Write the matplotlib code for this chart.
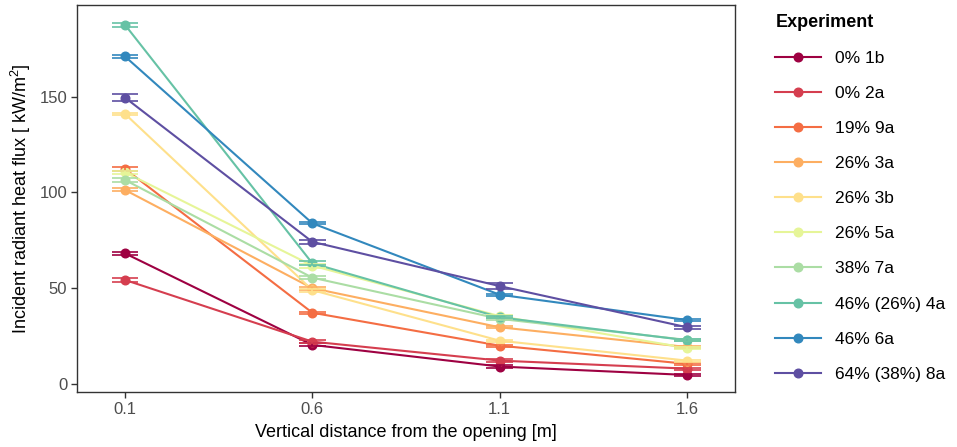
import matplotlib
matplotlib.use("Agg")
import matplotlib.pyplot as plt
from matplotlib.lines import Line2D

plt.rcParams['font.family'] = ['Liberation Sans', 'DejaVu Sans']
plt.rcParams['mathtext.fontset'] = 'custom'
plt.rcParams['mathtext.rm'] = 'Liberation Sans'
plt.rcParams['mathtext.it'] = 'Liberation Sans:italic'

distances = [0.1, 0.6, 1.1, 1.6]
experiments = ["0% 1b", "0% 2a", "19% 9a", "26% 3a", "26% 3b",
               "26% 5a", "38% 7a", "46% (26%) 4a", "46% 6a", "64% (38%) 8a"]
colors = ["#9E0142", "#D53E4F", "#F46D43", "#FDAE61", "#FEE08B",
          "#E6F598", "#ABDDA4", "#66C2A5", "#3288BD", "#5E4FA2"]

flux_1b = [68.2, 20.4, 9.1, 4.7]
flux_2a = [54.3, 22.1, 12.2, 8.0]
flux_9a = [112.3, 37.2, 20.0, 10.5]
flux_3a = [101.3, 50.0, 29.6, 19.3]
flux_3b = [141.0, 49.0, 22.6, 12.2]
flux_5a = [110.5, 61.8, 35.4, 18.8]
flux_7a = [106.5, 55.5, 34.0, 23.0]
flux_4a = [187.5, 63.0, 34.8, 22.8]
flux_6a = [171.0, 83.9, 46.6, 33.4]
flux_8a = [149.5, 74.2, 51.1, 29.6]

err_1b = [0.8, 0.8, 0.6, 0.5]
err_2a = [0.8, 0.8, 0.6, 0.5]
err_9a = [1.0, 0.6, 0.6, 0.5]
err_3a = [0.8, 0.8, 0.6, 0.5]
err_3b = [0.6, 0.8, 0.6, 0.5]
err_5a = [0.8, 1.0, 0.8, 0.6]
err_7a = [0.8, 0.8, 0.6, 0.5]
err_4a = [1.1, 1.0, 0.6, 0.5]
err_6a = [1.0, 0.6, 0.6, 0.5]
err_8a = [1.9, 1.2, 1.5, 0.8]

fluxes = [flux_1b, flux_2a, flux_9a, flux_3a, flux_3b,
          flux_5a, flux_7a, flux_4a, flux_6a, flux_8a]
errors = [err_1b, err_2a, err_9a, err_3a, err_3b,
          err_5a, err_7a, err_4a, err_6a, err_8a]

fig = plt.figure(figsize=(9.57, 4.47), dpi=100)
ax = fig.add_axes([0.0805, 0.123, 0.6875, 0.866])

half_w = 0.036
for name, col, ys, es in zip(experiments, colors, fluxes, errors):
    ax.plot(distances, ys, color=col, lw=1.5, zorder=2)
    ax.plot(distances, ys, 'o', color=col, ms=6.2, zorder=3)
    lo = [y - e for y, e in zip(ys, es)]
    hi = [y + e for y, e in zip(ys, es)]
    xl = [x - half_w for x in distances]
    xr = [x + half_w for x in distances]
    ax.hlines(lo, xl, xr, color=col, lw=1.2, zorder=4)
    ax.hlines(hi, xl, xr, color=col, lw=1.2, zorder=4)
    ax.vlines(distances, lo, hi, color=col, lw=1.2, zorder=4)

ax.set_xlim(-0.028, 1.728)
ax.set_ylim(-4.2, 197.9)
ax.set_xticks(distances)
ax.set_xticklabels([str(d) for d in distances])
ax.set_yticks([0, 50, 100, 150])
for s in ax.spines.values():
    s.set_color('#333333')
    s.set_linewidth(1.0)
ax.tick_params(axis='both', direction='out', length=4, width=1.0, color='#333333',
               labelcolor='#4D4D4D', labelsize=12, pad=3)

ax.set_xlabel("Vertical distance from the opening [m]", fontsize=13, labelpad=5)
ax.set_ylabel(r"Incident radiant heat flux [ kW/m$^2$]", fontsize=13, labelpad=5)

handles = [Line2D([0], [0], color=c, lw=1.5, marker='o', ms=6.2) for c in colors]
leg = fig.legend(handles, experiments, loc='upper left', bbox_to_anchor=(0.803, 0.985),
                 frameon=False, fontsize=12.5, title="Experiment",
                 title_fontproperties={'weight': 'bold', 'size': 13},
                 handlelength=2.6, handletextpad=0.85, labelspacing=1.15,
                 borderaxespad=0)
leg._legend_box.align = "left"

fig.savefig("out.png", dpi=100)
